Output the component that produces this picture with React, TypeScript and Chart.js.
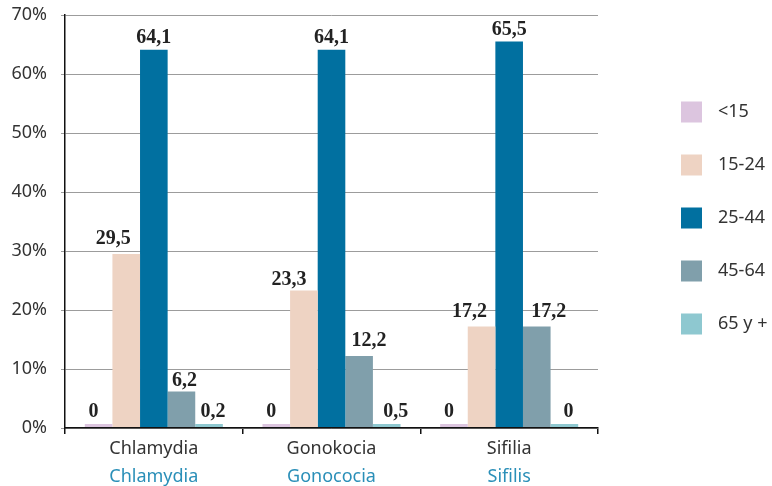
import React, { useEffect, useRef } from "react";
import { Chart, registerables } from "chart.js";

Chart.register(...registerables);

// ---- data ----
const categories = ["Chlamydia", "Gonokocia", "Sifilia"];
const categoriesAlt = ["Chlamydia", "Gonococia", "Sifilis"];
const seriesLabels = ["<15", "15-24", "25-44", "45-64", "65 y +"];
const under15 = [0, 0, 0];
const age15to24 = [29.5, 23.3, 17.2];
const age25to44 = [64.1, 64.1, 65.5];
const age45to64 = [6.2, 12.2, 17.2];
const age65plus = [0.2, 0.5, 0];
const yTickValues = [0, 10, 20, 30, 40, 50, 60, 70];
const seriesColors = ["#dcc5df", "#eed3c3", "#0170a0", "#809fab", "#8ec8d0"];

// small label nudges (style only), keyed "dataset-index"
const labelNudge: Record<string, [number, number]> = {
  "0-0": [-5, 0],
  "0-1": [-5, 0],
  "0-2": [-5, 0],
  "1-0": [-13, -3],
  "1-1": [-15, 1],
  "1-2": [-12, -3],
  "3-0": [3, 2],
  "3-1": [10, -3],
  "3-2": [12, -3],
  "4-0": [4, 0],
  "4-1": [9, 0],
  "4-2": [4, 0],
};

const SANS = "'Noto Sans', 'Open Sans', sans-serif";

const dataLabelPlugin = {
  id: "valueLabels",
  afterDatasetsDraw(chart: any) {
    const ctx = chart.ctx;
    ctx.save();
    ctx.font = "bold 20px 'Liberation Serif', 'DejaVu Serif', serif";
    ctx.fillStyle = "#222";
    ctx.textAlign = "center";
    ctx.textBaseline = "alphabetic";
    chart.data.datasets.forEach((ds: any, di: number) => {
      const meta = chart.getDatasetMeta(di);
      meta.data.forEach((el: any, i: number) => {
        const v = ds.data[i];
        const txt = String(v).replace(".", ",");
        const n = labelNudge[`${di}-${i}`] || [0, 0];
        ctx.fillText(txt, el.x + n[0], el.y - 7 + n[1]);
      });
    });
    ctx.restore();
  },
};

const categoryLabelPlugin = {
  id: "categoryLines",
  afterDraw(chart: any) {
    const ctx = chart.ctx;
    const x = chart.scales.x;
    const b = chart.chartArea.bottom;
    ctx.save();
    ctx.font = `18px ${SANS}`;
    ctx.textAlign = "center";
    ctx.textBaseline = "alphabetic";
    categories.forEach((t, i) => {
      ctx.fillStyle = "#333";
      ctx.fillText(t, x.getPixelForValue(i), b + 26);
      ctx.fillStyle = "#2a8fb8";
      ctx.fillText(categoriesAlt[i], x.getPixelForValue(i), b + 54);
    });
    ctx.restore();
  },
};

const legendPlugin = {
  id: "sideLegend",
  afterDraw(chart: any) {
    const ctx = chart.ctx;
    const area = chart.chartArea;
    ctx.save();
    ctx.font = `18px ${SANS}`;
    ctx.textAlign = "left";
    ctx.textBaseline = "middle";
    chart.data.datasets.forEach((ds: any, i: number) => {
      const cy = area.top + 97 + i * 53;
      const bx = area.right + 83;
      ctx.fillStyle = ds.backgroundColor;
      ctx.fillRect(bx, cy - 10.5, 21, 21);
      ctx.fillStyle = "#333";
      ctx.fillText(ds.label, bx + 37, cy);
    });
    ctx.restore();
  },
};

export default function App() {
  const ref = useRef<HTMLCanvasElement | null>(null);
  useEffect(() => {
    if (!ref.current) return;
    const seriesData = [under15, age15to24, age25to44, age45to64, age65plus];
    const chart = new Chart(ref.current, {
      type: "bar",
      data: {
        labels: categories,
        datasets: seriesLabels.map((l, i) => ({
          label: l,
          data: seriesData[i],
          backgroundColor: seriesColors[i],
          borderWidth: 0,
          barPercentage: 1,
          categoryPercentage: 0.777,
          minBarLength: 4,
        })),
      },
      options: {
        animation: false,
        responsive: true,
        maintainAspectRatio: false,
        layout: { padding: { top: 0, right: 174, bottom: 0, left: 0 } },
        plugins: { legend: { display: false }, tooltip: { enabled: false } },
        scales: {
          x: {
            grid: {
              display: true,
              drawOnChartArea: false,
              drawTicks: true,
              tickLength: 6,
              color: "#111",
              lineWidth: 1.5,
            },
            border: { display: true, color: "#111", width: 1.5, z: 1 },
            ticks: { display: false },
            afterFit: (s: any) => {
              s.height = 58;
            },
          },
          y: {
            min: 0,
            max: 70,
            afterBuildTicks: (s: any) => {
              s.ticks = yTickValues.map((v) => ({ value: v }));
            },
            grid: { color: "#9c9c9c", lineWidth: 1, tickLength: 4 },
            border: { display: true, color: "#111", width: 1.5, z: 1 },
            ticks: {
              color: "#333",
              font: { family: SANS, size: 18 },
              padding: 14,
              callback: (v: any) => `${v}%`,
            },
            afterFit: (s: any) => {
              s.width = 65;
              s.paddingTop = 15;
              s.paddingBottom = 0;
            },
          },
        },
      },
      plugins: [dataLabelPlugin, categoryLabelPlugin, legendPlugin],
    });
    return () => chart.destroy();
  }, []);
  return (
    <div style={{ position: "absolute", left: 0, top: 0, width: 772, height: 486 }}>
      <canvas ref={ref} />
    </div>
  );
}
